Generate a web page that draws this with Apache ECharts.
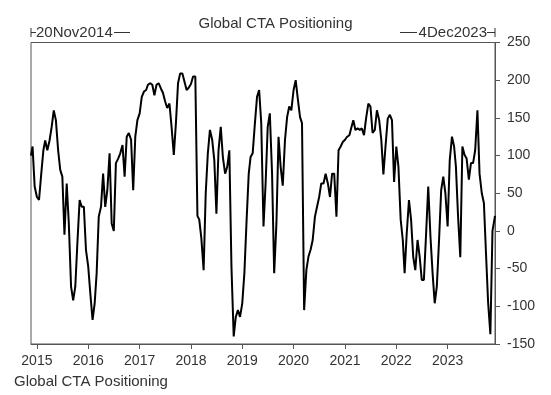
<!DOCTYPE html>
<html>
<head>
<meta charset="utf-8">
<script src="https://cdn.jsdelivr.net/npm/echarts@6/dist/echarts.min.js"></script>
<style>
html,body{margin:0;padding:0;background:#fff;}
#chart{width:551px;height:395px;}
</style>
</head>
<body>
<div id="chart"></div>
<script>
const chartTitle = "Global CTA Positioning";
const startLabel = "20Nov2014";
const endLabel = "4Dec2023";
const yTicks = [-150, -100, -50, 0, 50, 100, 150, 200, 250];

const dates = [
"2014-11-20","2014-12-01","2014-12-16",
"2015-01-01","2015-01-16","2015-02-01","2015-02-16","2015-03-01","2015-03-16","2015-04-01","2015-04-16","2015-05-01","2015-05-16","2015-06-01","2015-06-16","2015-07-01","2015-07-16","2015-08-01","2015-08-16","2015-09-01","2015-09-16","2015-10-01","2015-10-16","2015-11-01","2015-11-16","2015-12-01","2015-12-16",
"2016-01-01","2016-01-16","2016-02-01","2016-02-16","2016-03-01","2016-03-16","2016-04-01","2016-04-16","2016-05-01","2016-05-16","2016-06-01","2016-06-16","2016-07-01","2016-07-16","2016-08-01","2016-08-16","2016-09-01","2016-09-16","2016-10-01","2016-10-16","2016-11-01","2016-11-16","2016-12-01","2016-12-16",
"2017-01-01","2017-01-16","2017-02-01","2017-02-16","2017-03-01","2017-03-16","2017-04-01","2017-04-16","2017-05-01","2017-05-16","2017-06-01","2017-06-16","2017-07-01","2017-07-16","2017-08-01","2017-08-16","2017-09-01","2017-09-16","2017-10-01","2017-10-16","2017-11-01","2017-11-16","2017-12-01","2017-12-16",
"2018-01-01","2018-01-16","2018-02-01","2018-02-16","2018-03-01","2018-03-16","2018-04-01","2018-04-16","2018-05-01","2018-05-16","2018-06-01","2018-06-16","2018-07-01","2018-07-16","2018-08-01","2018-08-16","2018-09-01","2018-09-16","2018-10-01","2018-10-16","2018-11-01","2018-11-16","2018-12-01","2018-12-16",
"2019-01-01","2019-01-16","2019-02-01","2019-02-16","2019-03-01","2019-03-16","2019-04-01","2019-04-16","2019-05-01","2019-05-16","2019-06-01","2019-06-16","2019-07-01","2019-07-16","2019-08-01","2019-08-16","2019-09-01","2019-09-16","2019-10-01","2019-10-16","2019-11-01","2019-11-16","2019-12-01","2019-12-16",
"2020-01-01","2020-01-16","2020-02-01","2020-02-16","2020-03-01","2020-03-16","2020-04-01","2020-04-16","2020-05-01","2020-05-16","2020-06-01","2020-06-16","2020-07-01","2020-07-16","2020-08-01","2020-08-16","2020-09-01","2020-09-16","2020-10-01","2020-10-16","2020-11-01","2020-11-16","2020-12-01","2020-12-16",
"2021-01-01","2021-01-16","2021-02-01","2021-02-16","2021-03-01","2021-03-16","2021-04-01","2021-04-16","2021-05-01","2021-05-16","2021-06-01","2021-06-16","2021-07-01","2021-07-16","2021-08-01","2021-08-16","2021-09-01","2021-09-16","2021-10-01","2021-10-16","2021-11-01","2021-11-16","2021-12-01","2021-12-16",
"2022-01-01","2022-01-16","2022-02-01","2022-02-16","2022-03-01","2022-03-16","2022-04-01","2022-04-16","2022-05-01","2022-05-16","2022-06-01","2022-06-16","2022-07-01","2022-07-16","2022-08-01","2022-08-16","2022-09-01","2022-09-16","2022-10-01","2022-10-16","2022-11-01","2022-11-16","2022-12-01","2022-12-16",
"2023-01-01","2023-01-16","2023-02-01","2023-02-16","2023-03-01","2023-03-16","2023-04-01","2023-04-16","2023-05-01","2023-05-16","2023-06-01","2023-06-16","2023-07-01","2023-07-16","2023-08-01","2023-08-16","2023-09-01","2023-09-16","2023-10-01","2023-10-16","2023-11-01","2023-11-16","2023-12-04"
];

const v2014 = [100, 112, 59];
const v2015 = [45, 41, 76, 107, 120, 107, 120, 138, 160, 147, 107, 81, 72, -5, 63, 10, -74, -92, -74, -16, 41, 32, 32, -25];
const v2016 = [-47, -83, -118, -96, -56, 19, 32, 76, 32, 54, 103, 10, 0, 90, 96, 103, 114, 72, 125, 130, 121, 54, 125, 147];
const v2017 = [156, 178, 185, 187, 194, 196, 194, 180, 194, 196, 189, 183, 172, 163, 169, 138, 101, 143, 196, 209, 209, 198, 187, 190];
const v2018 = [195, 205, 205, 20, 15, -10, -52, 50, 103, 134, 121, 94, 23, 107, 138, 98, 76, 85, 107, -47, -140, -114, -105, -114];
const v2019 = [-96, -56, 15, 76, 98, 103, 143, 178, 187, 143, 6, 63, 138, 156, 76, -56, 10, 125, 85, 60, 121, 151, 165, 160];
const v2020 = [187, 200, 174, 151, 143, -105, -52, -34, -25, -12, 19, 32, 45, 63, 63, 76, 63, 45, 76, 76, 19, 107, 112, 118];
const v2021 = [121, 125, 127, 138, 147, 134, 136, 134, 136, 127, 151, 169, 165, 130, 134, 160, 147, 121, 75, 112, 149, 154, 147, 65];
const v2022 = [112, 85, 15, -12, -56, -3, 41, 15, -34, -52, -12, -34, -65, -65, -3, 59, -8, -56, -96, -74, -12, 54, 72, 50];
const v2023 = [6, 94, 125, 112, 85, 20, -35, 112, 101, 96, 68, 90, 90, 107, 160, 76, 50, 37, -30, -95, -137, 0, 20];

const values = [].concat(v2014, v2015, v2016, v2017, v2018, v2019, v2020, v2021, v2022, v2023);
const seriesData = dates.map((d, i) => [d, values[i]]);

const FONT = "'Liberation Sans', Arial, sans-serif";
const TXT = '#333';

const chart = echarts.init(document.getElementById('chart'), null, {renderer: 'canvas'});
const GL = 31, GR = 495, GT = 42.5, GB = 344;
chart.setOption({
  animation: false,
  backgroundColor: '#fff',
  grid: {
    left: GL, right: 551 - GR, top: GT, bottom: 395 - GB,
    show: true, borderColor: '#555', borderWidth: 1, backgroundColor: 'transparent'
  },
  xAxis: {
    type: 'time',
    min: dates[0],
    max: dates[dates.length - 1],
    minInterval: 365 * 24 * 3600 * 1000,
    maxInterval: 366 * 24 * 3600 * 1000,
    axisLine: {show: true, onZero: false, lineStyle: {color: '#555', width: 1}},
    axisTick: {show: true, length: 5, lineStyle: {color: '#555'}},
    splitLine: {show: false},
    axisLabel: {
      show: true,
      formatter: '{yyyy}',
      showMinLabel: false,
      showMaxLabel: false,
      color: TXT,
      fontFamily: FONT,
      fontSize: 14,
      margin: 10
    }
  },
  yAxis: {
    type: 'value',
    position: 'right',
    min: yTicks[0],
    max: yTicks[yTicks.length - 1],
    interval: 50,
    axisLine: {show: true, onZero: false, lineStyle: {color: '#555', width: 1}},
    axisTick: {show: true, length: 5, lineStyle: {color: '#555'}},
    splitLine: {show: false},
    axisLabel: {color: TXT, fontFamily: FONT, fontSize: 14, margin: 12}
  },
  series: [{
    type: 'line',
    data: seriesData,
    showSymbol: false,
    lineStyle: {color: '#000', width: 2},
    itemStyle: {color: '#000'}
  }],
  graphic: [
    {type: 'text', left: 'center', top: 16,
     style: {text: chartTitle, font: "15px " + FONT, fill: TXT}},
    // left range marker
    {type: 'line', shape: {x1: GL, y1: 28, x2: GL, y2: 37}, style: {stroke: '#333', lineWidth: 1}},
    {type: 'line', shape: {x1: GL, y1: 32.5, x2: GL + 5, y2: 32.5}, style: {stroke: '#333', lineWidth: 1}},
    {type: 'text', x: GL + 5, y: 25,
     style: {text: startLabel, font: "15px " + FONT, fill: TXT}},
    {type: 'line', shape: {x1: 114, y1: 32.5, x2: 130, y2: 32.5}, style: {stroke: '#333', lineWidth: 1}},
    // right range marker
    {type: 'line', shape: {x1: 400, y1: 32.5, x2: 417, y2: 32.5}, style: {stroke: '#333', lineWidth: 1}},
    {type: 'text', x: GR - 8, y: 25,
     style: {text: endLabel, font: "15px " + FONT, fill: TXT, align: 'right'}},
    {type: 'line', shape: {x1: GR - 8, y1: 32.5, x2: GR, y2: 32.5}, style: {stroke: '#333', lineWidth: 1}},
    {type: 'line', shape: {x1: GR, y1: 28, x2: GR, y2: 37}, style: {stroke: '#333', lineWidth: 1}},
    // bottom caption
    {type: 'text', x: 14, y: 374,
     style: {text: chartTitle, font: "15px " + FONT, fill: TXT}}
  ]
});
</script>
</body>
</html>
